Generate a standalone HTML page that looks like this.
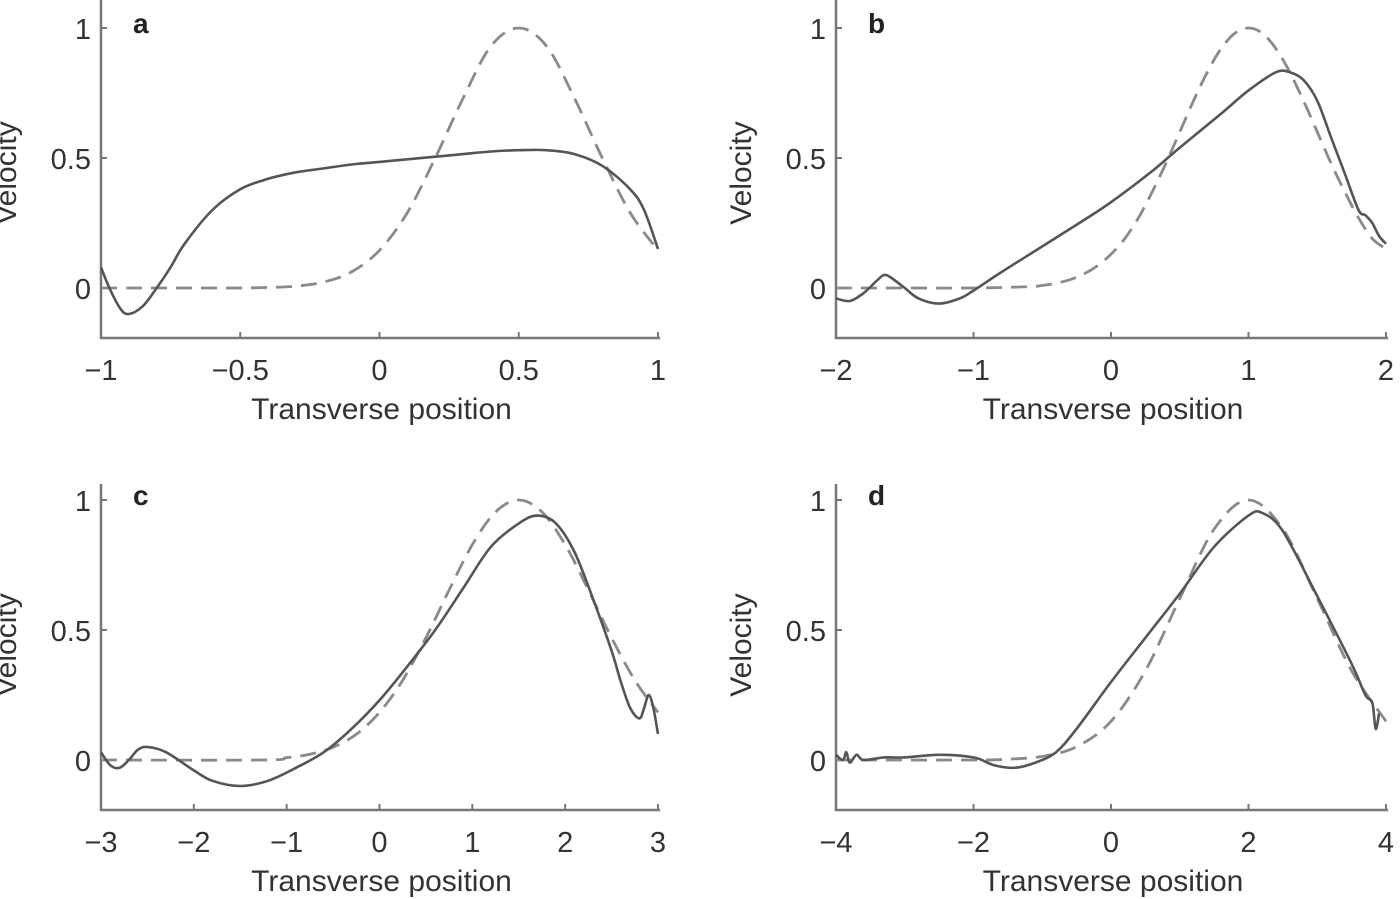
<!DOCTYPE html>
<html><head><meta charset="utf-8"><style>
body{margin:0;background:#fff}
svg{display:block;font-family:"Liberation Sans",sans-serif}
</style></head><body>
<svg id="chart" width="1400" height="899" viewBox="0 0 1400 899"></svg>
<script>
const xA=[-1,-0.9,-0.8,-0.7,-0.6,-0.5,-0.4,-0.3,-0.2,-0.1,0,0.1,0.2,0.3,0.4,0.5,0.6,0.7,0.8,0.9,1];
const dashA=[0,0,0,0,0,0,0.002,0.007,0.023,0.062,0.145,0.29,0.5,0.73,0.93,1,0.93,0.73,0.5,0.29,0.145];
const xsA=[-1,-0.97,-0.93,-0.9,-0.85,-0.8,-0.75,-0.7,-0.6,-0.5,-0.4,-0.3,-0.2,-0.1,0,0.1,0.2,0.3,0.4,0.5,0.6,0.7,0.8,0.9,0.95,1];
const solA=[0.08,0,-0.08,-0.1,-0.07,0,0.08,0.17,0.3,0.38,0.42,0.445,0.46,0.475,0.485,0.495,0.505,0.515,0.525,0.53,0.53,0.515,0.47,0.38,0.3,0.15];

const xB=[-2,-1.5,-1,-0.6,-0.5,-0.4,-0.3,-0.2,-0.1,0,0.1,0.2,0.3,0.4,0.5,0.6,0.7,0.8,0.9,1,1.1,1.2,1.3,1.4,1.5,1.6,1.7,1.8,1.9,2];
const dashB=[0,0,0,0.005,0.01,0.018,0.032,0.053,0.085,0.13,0.19,0.27,0.37,0.48,0.6,0.72,0.83,0.92,0.98,1,0.98,0.92,0.83,0.72,0.6,0.48,0.37,0.27,0.19,0.15];
const xsB=[-2,-1.9,-1.8,-1.7,-1.65,-1.6,-1.5,-1.4,-1.25,-1.1,-1,-0.8,-0.5,-0.2,0,0.3,0.5,0.8,1,1.2,1.3,1.4,1.5,1.6,1.7,1.8,1.85,1.9,1.95,2];
const solB=[-0.04,-0.05,-0.02,0.03,0.05,0.04,0,-0.04,-0.06,-0.04,-0.01,0.06,0.16,0.26,0.33,0.45,0.54,0.67,0.76,0.83,0.83,0.8,0.72,0.58,0.44,0.3,0.28,0.25,0.2,0.17];

const xC=[-3,-1.25,-1,-0.75,-0.5,-0.25,0,0.25,0.5,0.75,1,1.25,1.5,1.75,2,2.25,2.5,2.75,3];
const dashC=[0,0,0.009,0.022,0.049,0.099,0.183,0.307,0.47,0.654,0.828,0.954,1,0.954,0.828,0.654,0.47,0.307,0.183];
const xsC=[-3,-2.9,-2.8,-2.7,-2.6,-2.5,-2.3,-2,-1.8,-1.5,-1.2,-0.9,-0.6,-0.3,0,0.3,0.6,0.9,1.2,1.5,1.7,1.9,2.1,2.3,2.5,2.6,2.7,2.8,2.85,2.9,2.95,3];
const solC=[0.03,-0.02,-0.03,0,0.04,0.05,0.03,-0.04,-0.08,-0.1,-0.08,-0.03,0.03,0.12,0.23,0.36,0.5,0.66,0.82,0.91,0.94,0.91,0.8,0.62,0.42,0.3,0.2,0.16,0.2,0.25,0.2,0.1];

const xD=[-4,-2,-1.5,-1,-0.5,0,0.5,1,1.5,2,2.5,3,3.5,4];
const dashD=[0,0,0.003,0.014,0.051,0.149,0.343,0.621,0.888,1,0.888,0.621,0.343,0.149];
const xsD=[-4,-3.9,-3.85,-3.8,-3.7,-3.6,-3.3,-3,-2.5,-2,-1.7,-1.4,-1.1,-0.8,-0.5,0,0.5,1,1.5,2,2.2,2.5,3,3.5,3.7,3.8,3.85,3.9];
const solD=[0.02,0,0.03,-0.01,0.02,0,0.01,0.01,0.02,0.01,-0.02,-0.03,-0.01,0.03,0.12,0.3,0.47,0.64,0.82,0.94,0.95,0.88,0.63,0.37,0.25,0.22,0.12,0.18];

const yTicks=[0,0.5,1];
const yTickLabels=["0","0.5","1"];
const xTicksA=[-1,-0.5,0,0.5,1], xLabA=["\u22121","\u22120.5","0","0.5","1"];
const xTicksB=[-2,-1,0,1,2], xLabB=["\u22122","\u22121","0","1","2"];
const xTicksC=[-3,-2,-1,0,1,2,3], xLabC=["\u22123","\u22122","\u22121","0","1","2","3"];
const xTicksD=[-4,-2,0,2,4], xLabD=["\u22124","\u22122","0","2","4"];

const NS="http://www.w3.org/2000/svg";
const svg=document.getElementById('chart');
function mk(tag,attrs,parent){const e=document.createElementNS(NS,tag);for(const k in attrs)e.setAttribute(k,attrs[k]);parent.appendChild(e);return e;}
function smooth(P){
  let d=`M${P[0][0].toFixed(1)} ${P[0][1].toFixed(1)}`;
  for(let i=0;i<P.length-1;i++){
    const p0=P[Math.max(0,i-1)],p1=P[i],p2=P[i+1],p3=P[Math.min(P.length-1,i+2)];
    const c1=[p1[0]+(p2[0]-p0[0])/6,p1[1]+(p2[1]-p0[1])/6];
    const c2=[p2[0]-(p3[0]-p1[0])/6,p2[1]-(p3[1]-p1[1])/6];
    d+=` C${c1[0].toFixed(1)} ${c1[1].toFixed(1)} ${c2[0].toFixed(1)} ${c2[1].toFixed(1)} ${p2[0].toFixed(1)} ${p2[1].toFixed(1)}`;
  }
  return d;
}
function panel(p){
  const g=mk('g',{},svg);
  
  
  const sx=v=>p.x0+(v-p.xmin)/(p.xmax-p.xmin)*(p.x1-p.x0);
  const sy=v=>p.y0-v*(p.y0-p.y1);
  const ax=mk('path',{d:`M${p.x0} ${p.top} V${p.bot} H${p.x1+2}`,stroke:'#777',"stroke-width":2.5,fill:'none'},g);
  
  
  p.xt.forEach((v,i)=>{
    mk('line',{x1:sx(v),x2:sx(v),y1:p.bot,y2:p.bot-6,stroke:'#777',"stroke-width":2},g);
    const t=mk('text',{x:sx(v),y:p.bot+42,"text-anchor":"middle","font-size":29,fill:'#333'},g);
    t.textContent=p.xl[i];
    
    
  });
  yTicks.forEach((v,i)=>{
    mk('line',{x1:p.x0,x2:p.x0+6,y1:sy(v),y2:sy(v),stroke:'#777',"stroke-width":2},g);
    const t=mk('text',{x:p.x0-10,y:sy(v)+11,"text-anchor":"end","font-size":29,fill:'#333'},g);
    t.textContent=yTickLabels[i];
    
    
  });
  const xt=mk('text',{x:(p.x0+p.x1)/2+2,y:p.bot+81,"text-anchor":"middle","font-size":30,fill:'#333'},g);
  xt.textContent='Transverse position';
  
  
  const yc=(p.y1+p.bot)/2-10;
  const yt=mk('text',{x:p.x0-85,y:yc,transform:`rotate(-90 ${p.x0-85} ${yc})`,"text-anchor":"middle","font-size":30,fill:'#333'},g);
  yt.textContent='Velocity';
  
  
  const lt=mk('text',{x:p.x0+32,y:p.y1+5,"font-size":28,"font-weight":"bold",fill:'#222'},g);
  lt.textContent=p.letter;
  
  
  const pts=(xs,ys)=>xs.map((x,i)=>[sx(x),sy(ys[i])]);
  const dl=mk('path',{d:smooth(pts(p.xd,p.yd)),fill:'none',stroke:'#8a8a8a',"stroke-width":2.8,"stroke-dasharray":"16 9"},g);
  
  
  const sl=mk('path',{d:smooth(pts(p.xs,p.ys)),fill:'none',stroke:'#555',"stroke-width":2.6,"stroke-linejoin":"round"},g);
  
  
}
panel({letter:'a',x0:101,x1:658,xmin:-1,xmax:1,y0:288,y1:28,top:0,bot:338,xt:xTicksA,xl:xLabA,xd:xA,yd:dashA,xs:xsA,ys:solA});
panel({letter:'b',x0:836,x1:1386,xmin:-2,xmax:2,y0:288,y1:28,top:0,bot:338,xt:xTicksB,xl:xLabB,xd:xB,yd:dashB,xs:xsB,ys:solB});
panel({letter:'c',x0:101,x1:658,xmin:-3,xmax:3,y0:760,y1:500,top:484,bot:810,xt:xTicksC,xl:xLabC,xd:xC,yd:dashC,xs:xsC,ys:solC});
panel({letter:'d',x0:836,x1:1386,xmin:-4,xmax:4,y0:760,y1:500,top:484,bot:810,xt:xTicksD,xl:xLabD,xd:xD,yd:dashD,xs:xsD,ys:solD});
</script>
</body></html>
